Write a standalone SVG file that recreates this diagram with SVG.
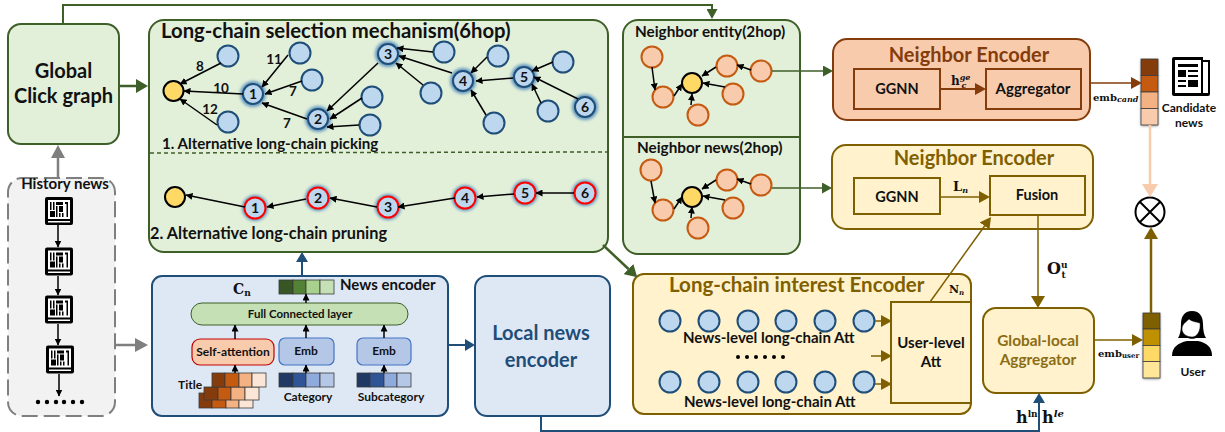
<svg xmlns="http://www.w3.org/2000/svg" width="1225" height="432" viewBox="0 0 1225 432">
<style>
text{font-family:"Lato","Liberation Sans",sans-serif;font-weight:700;fill:#111}
.m{text-anchor:middle}
.serif{font-family:"DejaVu Serif","Liberation Serif",serif;font-weight:700;fill:#111}
.n{fill:#bdd7ee;stroke:#1f4e79;stroke-width:2}
.o{fill:#f8cbad;stroke:#c55a11;stroke-width:2}
.r{fill:#bdd7ee;stroke:#f00;stroke-width:2}
.y{fill:#ffd966;stroke:#000;stroke-width:2}
.glow{fill:#2e75b6;opacity:.7;filter:url(#blur)}
.num{font-size:14px;text-anchor:middle}
.el{font-size:13.500px;text-anchor:middle}
.k{stroke:#000;stroke-width:1.5;fill:none;marker-end:url(#ak)}
.gbox{fill:#e2efd9;stroke:#3f5f29;stroke-width:2}
.cell{stroke:#3b3b3b;stroke-width:.8}
</style>
<defs>
<filter id="blur" x="-40%" y="-40%" width="180%" height="180%"><feGaussianBlur stdDeviation="1.6"/></filter>
<filter id="sh" x="-30%" y="-10%" width="160%" height="120%"><feDropShadow dx="0" dy="1" stdDeviation="1.5" flood-color="#000" flood-opacity=".45"/></filter>
<marker id="ak" markerUnits="userSpaceOnUse" markerWidth="7" markerHeight="7" viewBox="0 0 7 7" refX="6.5" refY="3.5" orient="auto"><path d="M0 0L7 3.5L0 7z" fill="#000"/></marker>
<marker id="gL" markerUnits="userSpaceOnUse" markerWidth="12" markerHeight="14" viewBox="0 0 12 14" refX="0" refY="7" orient="auto"><path d="M0 0L12 7L0 14z" fill="#3f5f29"/></marker>
<marker id="gS" markerUnits="userSpaceOnUse" markerWidth="10" markerHeight="11" viewBox="0 0 10 11" refX="0" refY="5.5" orient="auto"><path d="M0 0L10 5.5L0 11z" fill="#3f5f29"/></marker>
<marker id="gr" markerUnits="userSpaceOnUse" markerWidth="13" markerHeight="14" viewBox="0 0 13 14" refX="0" refY="7" orient="auto"><path d="M0 0L13 7L0 14z" fill="#7f7f7f"/></marker>
<marker id="bl" markerUnits="userSpaceOnUse" markerWidth="10" markerHeight="12" viewBox="0 0 10 12" refX="0" refY="6" orient="auto"><path d="M0 0L10 6L0 12z" fill="#1f4e79"/></marker>
<marker id="br" markerUnits="userSpaceOnUse" markerWidth="11" markerHeight="12" viewBox="0 0 11 12" refX="0" refY="6" orient="auto"><path d="M0 0L11 6L0 12z" fill="#843c0c"/></marker>
<marker id="go" markerUnits="userSpaceOnUse" markerWidth="11" markerHeight="12" viewBox="0 0 11 12" refX="0" refY="6" orient="auto"><path d="M0 0L11 6L0 12z" fill="#7f6000"/></marker>
<marker id="goL" markerUnits="userSpaceOnUse" markerWidth="12" markerHeight="14" viewBox="0 0 12 14" refX="0" refY="7" orient="auto"><path d="M0 0L12 7L0 14z" fill="#7f6000"/></marker>
<marker id="pe" markerUnits="userSpaceOnUse" markerWidth="13" markerHeight="16" viewBox="0 0 13 16" refX="0" refY="8" orient="auto"><path d="M0 0L13 8L0 16z" fill="#f8cbad"/></marker>
<symbol id="hist" viewBox="0 0 28 28">
<rect width="28" height="28" rx="2" fill="#000"/>
<rect x="3" y="3" width="22" height="19" fill="#fff"/>
<rect x="3" y="24" width="22" height="1.5" fill="#fff"/>
<path d="M5 5h1.500v8H5zM8 5h1.500v8H8zM5 14h5v6H5zM11 5h7v3h-7zM11 9h1.500v11H11zM14 9h4v6h-4zM14 16h1.500v4H14zM17 16h1.500v4H17zM20 5h3v15h-1.500V7H20z" fill="#000"/>
</symbol>
</defs>

<g id="global-click-graph"><rect class="gbox" x="8" y="24" width="111" height="120" rx="13"/>
<text class="m" x="63.500" y="78" font-size="20">Global</text><text class="m" x="63.500" y="103" font-size="20">Click graph</text></g>
<g id="history-news"><rect x="8" y="178" width="107" height="238" rx="14" fill="#f2f2f2" stroke="#7f7f7f" stroke-width="2" stroke-dasharray="16 6"/>
<text class="m" x="65" y="189" font-size="15">History news</text>
<use href="#hist" x="45" y="197" width="28" height="28"/><use href="#hist" x="45" y="247" width="28" height="29"/><use href="#hist" x="45" y="295" width="28" height="29"/><use href="#hist" x="46" y="345" width="28" height="29"/>
<g fill="#000"><circle cx="38" cy="402" r="2.200"/><circle cx="47" cy="402" r="2.200"/><circle cx="56" cy="402" r="2.200"/><circle cx="64" cy="402" r="2.200"/><circle cx="73" cy="402" r="2.200"/><circle cx="82" cy="402" r="2.200"/></g></g>
<g id="long-chain-selection"><rect class="gbox" x="149" y="20" width="459" height="232" rx="15"/>
<line x1="150" y1="153" x2="607" y2="152" stroke="#3f5f29" stroke-width="1.500" stroke-dasharray="4 3"/>
<text x="161" y="38" font-size="20.300">Long-chain selection mechanism(6hop)</text>
<text x="162" y="149" font-size="15.100">1. Alternative long-chain picking</text>
<text x="150" y="239" font-size="16.300">2. Alternative long-chain pruning</text></g>
<g id="neighbor-graphs"><rect class="gbox" x="623" y="20" width="177" height="234" rx="15"/>
<line x1="623" y1="137" x2="800" y2="137" stroke="#3f5f29" stroke-width="2"/>
<text x="635" y="37" font-size="15.300">Neighbor entity(2hop)</text><text x="637" y="153" font-size="15.300">Neighbor news(2hop)</text></g>

<g id="chain-picking-nodes">
<g id="p-root"><circle class="y" cx="173.500" cy="91" r="10"/></g>
<g id="p-a"><circle class="n" cx="228" cy="56" r="10.500"/></g><g id="p-b"><circle class="n" cx="300" cy="53" r="10.500"/></g><g id="p-c"><circle class="n" cx="312" cy="80" r="10.500"/></g><g id="p-d"><circle class="n" cx="228" cy="122" r="10.500"/></g>
<g id="p-e"><circle class="n" cx="444" cy="52" r="10.500"/></g><g id="p-f"><circle class="n" cx="498" cy="56" r="10.500"/></g><g id="p-g"><circle class="n" cx="563" cy="62" r="10.500"/></g><g id="p-h"><circle class="n" cx="431" cy="93" r="10.500"/></g>
<g id="p-i"><circle class="n" cx="372" cy="97" r="10.500"/></g><g id="p-j"><circle class="n" cx="370" cy="125" r="10.500"/></g><g id="p-k"><circle class="n" cx="494" cy="123" r="10.500"/></g><g id="p-l"><circle class="n" cx="548" cy="111" r="10.500"/></g>
<g id="p1"><circle class="glow" cx="253" cy="94" r="13"/><circle class="n" cx="253" cy="94" r="10"/><text class="num" x="253" y="99">1</text></g>
<g id="p2"><circle class="glow" cx="318" cy="119" r="13"/><circle class="n" cx="318" cy="119" r="10"/><text class="num" x="318" y="124">2</text></g>
<g id="p3"><circle class="glow" cx="388" cy="54" r="13"/><circle class="n" cx="388" cy="54" r="10"/><text class="num" x="388" y="59">3</text></g>
<g id="p4"><circle class="glow" cx="463" cy="81" r="13"/><circle class="n" cx="463" cy="81" r="10"/><text class="num" x="463" y="86">4</text></g>
<g id="p5"><circle class="glow" cx="524" cy="77" r="13"/><circle class="n" cx="524" cy="77" r="10"/><text class="num" x="524" y="82">5</text></g>
<g id="p6"><circle class="glow" cx="585" cy="107" r="13"/><circle class="n" cx="585" cy="107" r="10"/><text class="num" x="585" y="112">6</text></g>
<text class="el" x="200" y="71">8</text><text class="el" x="274" y="64">11</text><text class="el" x="221" y="93">10</text><text class="el" x="293" y="96">7</text><text class="el" x="287" y="128">7</text><text class="el" x="210" y="114">12</text>
</g>
<g id="chain-pruning-nodes">
<g id="q-root"><circle class="y" cx="175" cy="197" r="10"/></g>
<g id="q1"><circle class="glow" cx="255" cy="208" r="13"/><circle class="r" cx="255" cy="208" r="10.500"/><text class="num" x="255" y="213">1</text></g>
<g id="q2"><circle class="glow" cx="318" cy="198" r="13"/><circle class="r" cx="318" cy="198" r="10.500"/><text class="num" x="318" y="203">2</text></g>
<g id="q3"><circle class="glow" cx="388" cy="207" r="13"/><circle class="r" cx="388" cy="207" r="10.500"/><text class="num" x="388" y="212">3</text></g>
<g id="q4"><circle class="glow" cx="465" cy="198" r="13"/><circle class="r" cx="465" cy="198" r="10.500"/><text class="num" x="465" y="203">4</text></g>
<g id="q5"><circle class="glow" cx="525" cy="193" r="13"/><circle class="r" cx="525" cy="193" r="10.500"/><text class="num" x="525" y="198">5</text></g>
<g id="q6"><circle class="glow" cx="585" cy="193" r="13"/><circle class="r" cx="585" cy="193" r="10.500"/><text class="num" x="585" y="198">6</text></g>
</g>
<g id="neighbor-entity-nodes">
<circle class="o" cx="652" cy="57" r="10.500"/><circle class="o" cx="663" cy="97" r="10.500"/><circle class="y" cx="692" cy="83" r="10"/><circle class="o" cx="727" cy="66" r="10.500"/><circle class="o" cx="761" cy="71" r="10.500"/><circle class="o" cx="733" cy="94" r="10.500"/><circle class="o" cx="698" cy="115" r="10.500"/>
</g>
<g id="neighbor-news-nodes">
<circle class="o" cx="651" cy="170" r="10.500"/><circle class="o" cx="663" cy="210" r="10.500"/><circle class="y" cx="692" cy="197" r="10"/><circle class="o" cx="727" cy="180" r="10.500"/><circle class="o" cx="761" cy="185" r="10.500"/><circle class="o" cx="733" cy="208" r="10.500"/><circle class="o" cx="698" cy="228" r="10.500"/>
</g>

<g id="news-encoder"><rect x="152" y="276" width="296" height="140" rx="10" fill="#dee8f5" stroke="#1f4e79" stroke-width="2"/>
<text class="serif" x="233" y="294" font-size="14">C<tspan font-size="9" dy="2">n</tspan></text>
<g class="cell"><rect x="279" y="280" width="14" height="14" fill="#375623"/><rect x="293" y="280" width="13" height="14" fill="#548235"/><rect x="306" y="280" width="14" height="14" fill="#a9d18e"/><rect x="320" y="280" width="14" height="14" fill="#c5e0b4"/></g>
<text x="340" y="290" font-size="15">News encoder</text>
<g id="full-connected"><rect x="191" y="303" width="217" height="22" rx="11" fill="#c5e0b4" stroke="#3f5f29" stroke-width="1"/><text class="m" x="300" y="318" font-size="11.500">Full Connected layer</text></g>
<g id="self-attention"><rect x="192" y="339" width="82" height="26" rx="8" fill="#f8cbad" stroke="#c00000" stroke-width="1.200"/><text class="m" x="233" y="356" font-size="12">Self-attention</text></g>
<g id="emb-1"><rect x="279" y="338" width="55" height="27" rx="6" fill="#b4c7e7" stroke="#4472c4" stroke-width="1.200"/><text class="m" x="306" y="355" font-size="12">Emb</text></g>
<g id="emb-2"><rect x="357" y="338" width="54" height="27" rx="6" fill="#b4c7e7" stroke="#4472c4" stroke-width="1.200"/><text class="m" x="384" y="355" font-size="12">Emb</text></g>
<g class="cell"><rect x="199" y="393" width="13" height="15" fill="#843c0c"/><rect x="212" y="393" width="14" height="15" fill="#c55a11"/><rect x="226" y="393" width="13" height="15" fill="#f4b183"/><rect x="239" y="393" width="14" height="15" fill="#fbe5d6"/>
<rect x="204" y="387" width="14" height="13" fill="#843c0c"/><rect x="218" y="387" width="13" height="13" fill="#c55a11"/><rect x="231" y="387" width="14" height="13" fill="#f4b183"/><rect x="245" y="387" width="14" height="13" fill="#fbe5d6"/>
<rect x="212" y="373" width="13" height="14" fill="#843c0c"/><rect x="225" y="373" width="14" height="14" fill="#c55a11"/><rect x="239" y="373" width="13" height="14" fill="#f4b183"/><rect x="252" y="373" width="14" height="14" fill="#fbe5d6"/>
<rect x="279" y="373" width="14" height="14" fill="#1f3864"/><rect x="293" y="373" width="13" height="14" fill="#2f5597"/><rect x="306" y="373" width="14" height="14" fill="#8faadc"/><rect x="320" y="373" width="14" height="14" fill="#b4c7e7"/>
<rect x="357" y="373" width="13" height="14" fill="#1f3864"/><rect x="370" y="373" width="14" height="14" fill="#2f5597"/><rect x="384" y="373" width="13" height="14" fill="#8faadc"/><rect x="397" y="373" width="14" height="14" fill="#b4c7e7"/></g>
<text x="178" y="389" font-size="12">Title</text><text class="m" x="308" y="401" font-size="12">Category</text><text class="m" x="391" y="401" font-size="12">Subcategory</text></g>

<g id="local-news-encoder"><rect x="475" y="276" width="135" height="140" rx="12" fill="#dee8f5" stroke="#1f4e79" stroke-width="2"/>
<text class="m" x="541" y="340" font-size="20" style="fill:#1f4e79">Local news</text><text class="m" x="541" y="367" font-size="20" style="fill:#1f4e79">encoder</text></g>

<g id="neighbor-encoder-entity"><rect x="833" y="39" width="257" height="81" rx="14" fill="#f8cbad" stroke="#843c0c" stroke-width="2"/>
<text class="m" x="969" y="62" font-size="20" style="fill:#843c0c">Neighbor Encoder</text>
<g id="ggnn-1"><rect x="854" y="69" width="86" height="40" fill="#f8cbad" stroke="#843c0c" stroke-width="2"/><text class="m" x="897" y="94" font-size="14.500">GGNN</text></g>
<g id="aggregator"><rect x="986" y="69" width="95" height="40" fill="#f8cbad" stroke="#843c0c" stroke-width="2"/><text class="m" x="1033" y="94" font-size="15">Aggregator</text></g>
<text class="serif" x="951" y="85" font-size="12">h<tspan font-size="8" dy="-5" font-style="italic">ge</tspan><tspan font-size="8" dx="-9" dy="8" font-style="italic">c</tspan></text></g>
<g id="neighbor-encoder-news"><rect x="832" y="145" width="261" height="84" rx="14" fill="#fff2cc" stroke="#7f6000" stroke-width="2"/>
<text class="m" x="974" y="165" font-size="20" style="fill:#7f6000">Neighbor Encoder</text>
<g id="ggnn-2"><rect x="854" y="178" width="86" height="36" fill="#fff2cc" stroke="#7f6000" stroke-width="2"/><text class="m" x="897" y="202" font-size="14.500">GGNN</text></g>
<g id="fusion"><rect x="990" y="176" width="95" height="39" fill="#fff2cc" stroke="#7f6000" stroke-width="2"/><text class="m" x="1037" y="200" font-size="14.500">Fusion</text></g>
<text class="serif" x="953" y="191" font-size="13">L<tspan font-size="8" dy="2" font-style="italic">n</tspan></text></g>

<g id="long-chain-interest"><rect x="633" y="274" width="338" height="140" rx="11" fill="#fff2cc" stroke="#7f6000" stroke-width="2"/>
<text x="669" y="292" font-size="20.500" style="fill:#7f6000">Long-chain interest Encoder</text>
<text class="serif" x="949" y="293" font-size="11">N<tspan font-size="7" dy="2" font-style="italic">n</tspan></text>
<g><circle class="n" cx="670" cy="321" r="10.500"/><circle class="n" cx="709" cy="321" r="10.500"/><circle class="n" cx="748" cy="321" r="10.500"/><circle class="n" cx="786" cy="321" r="10.500"/><circle class="n" cx="825" cy="321" r="10.500"/><circle class="n" cx="864" cy="321" r="10.500"/>
<circle class="n" cx="670" cy="382" r="10.500"/><circle class="n" cx="709" cy="382" r="10.500"/><circle class="n" cx="748" cy="382" r="10.500"/><circle class="n" cx="786" cy="382" r="10.500"/><circle class="n" cx="825" cy="382" r="10.500"/><circle class="n" cx="864" cy="382" r="10.500"/></g>
<text x="683" y="343" font-size="15">News-level long-chain Att</text><text x="684" y="407" font-size="15">News-level long-chain Att</text>
<g fill="#000"><circle cx="738" cy="357" r="2"/><circle cx="747" cy="357" r="2"/><circle cx="756" cy="357" r="2"/><circle cx="765" cy="357" r="2"/><circle cx="774" cy="357" r="2"/><circle cx="783" cy="357" r="2"/></g>
<g id="user-level-att"><rect x="891" y="302" width="80" height="101" fill="#fff2cc" stroke="#7f6000" stroke-width="2"/><text class="m" x="931" y="348" font-size="15">User-level</text><text class="m" x="931" y="367" font-size="15">Att</text></g></g>

<g id="global-local-aggregator"><rect x="983" y="308" width="111" height="85" rx="13" fill="#fff2cc" stroke="#7f6000" stroke-width="2"/>
<text class="m" x="1038" y="346" font-size="15.400" style="fill:#8a6d14">Global-local</text><text class="m" x="1038" y="365" font-size="15.400" style="fill:#8a6d14">Aggregator</text></g>

<g id="candidate-vector"><rect x="1141" y="59" width="17" height="66" filter="url(#sh)" fill="#f8cbad"/>
<g class="cell"><rect x="1141" y="59" width="17" height="16.500" fill="#843c0c"/><rect x="1141" y="75.500" width="17" height="16.500" fill="#c55a11"/><rect x="1141" y="92" width="17" height="16.500" fill="#f4b183"/><rect x="1141" y="108.500" width="17" height="16.500" fill="#f8cbad"/></g></g>
<g id="candidate-news"><path d="M1172 59a2 2 0 0 1 2-2h29v3h7v34a2 2 0 0 1-2 2h-34a2 2 0 0 1-2-2z" fill="#000"/><rect x="1175" y="60" width="26" height="33" fill="#fff"/><rect x="1203" y="62" width="5" height="31" fill="#fff"/>
<path d="M1178 64h20v3h-20zM1178 70h8v7h-8zM1188 70h10v2h-10zM1188 75h10v2h-10zM1178 80h8v2h-8zM1188 80h10v7h-10zM1178 85h8v2h-8z" fill="#000"/>
<text class="m" x="1189" y="112" font-size="12">Candidate</text><text class="m" x="1189" y="127" font-size="12">news</text></g>
<text class="serif" x="1093" y="101" font-size="10">emb<tspan font-size="8" dy="1" font-style="italic">cand</tspan></text>
<g id="product"><circle cx="1150" cy="212" r="14.500" fill="#fff" stroke="#000" stroke-width="2"/><path d="M1140 202L1160 222M1160 202L1140 222" stroke="#000" stroke-width="2"/></g>
<g id="user-vector"><rect x="1143" y="313" width="17" height="65" filter="url(#sh)" fill="#ffe699"/>
<g class="cell"><rect x="1143" y="313" width="17" height="16" fill="#7f6000"/><rect x="1143" y="329" width="17" height="16.500" fill="#bf9000"/><rect x="1143" y="345.500" width="17" height="16" fill="#ffd966"/><rect x="1143" y="361.500" width="17" height="16.500" fill="#ffe699"/></g></g>
<g id="user"><path d="M1192 311c-8 0-11 6-11 13 0 6-1 11-3 14h10c1 1 7 1 8 0h10c-2-3-3-8-3-14 0-7-3-13-11-13z" fill="#000"/>
<path d="M1182 329c0-5 4-7 7-10 3 3 9 3 11 4 1 8-3 14-8 14s-10-3-10-8z" fill="#fff" stroke="#000" stroke-width=".5"/>
<path d="M1172 356c0-9 6-13 15-15h11c9 2 14 6 14 15z" fill="#000"/>
<text class="m" x="1193" y="376" font-size="12">User</text></g>
<text class="serif" x="1047" y="274" font-size="16">O<tspan font-size="9" dy="-6">u</tspan><tspan font-size="9" dx="-6" dy="10">t</tspan></text>
<text class="serif" x="1098" y="357" font-size="10">emb<tspan font-size="7" dy="1">user</tspan></text>
<text class="serif" x="1016" y="423" font-size="16">h<tspan font-size="9" dy="-6">ln</tspan></text>
<text class="serif" x="1042" y="423" font-size="16">h<tspan font-size="10" dy="-6" font-style="italic">le</tspan></text>

<g id="connectors">
<path d="M63 24V5H712V9" fill="none" stroke="#3f5f29" stroke-width="2" marker-end="url(#gS)"/>
<path d="M119 86H136" fill="none" stroke="#3f5f29" stroke-width="2.500" marker-end="url(#gL)"/>
<path d="M58 178V158" fill="none" stroke="#7f7f7f" stroke-width="2.500" marker-end="url(#gr)"/>
<path d="M115 345H135" fill="none" stroke="#7f7f7f" stroke-width="2.500" marker-end="url(#gr)"/>
<path class="k" d="M58 225V247"/><path class="k" d="M58 276V295"/><path class="k" d="M58 324V345"/><path class="k" d="M59 374V396"/>
<path d="M302 276V262" fill="none" stroke="#1f4e79" stroke-width="2" marker-end="url(#bl)"/>
<path d="M448 345H465" fill="none" stroke="#1f4e79" stroke-width="2" marker-end="url(#bl)"/>
<path d="M541 416V431H1039V403" fill="none" stroke="#1f4e79" stroke-width="2" marker-end="url(#bl)"/>
<path d="M603 245L628.500 269" fill="none" stroke="#3f5f29" stroke-width="2.500" marker-end="url(#gL)"/>
<path d="M772 71H823" fill="none" stroke="#3f5f29" stroke-width="1.500" marker-end="url(#gS)"/>
<path d="M772 188H822" fill="none" stroke="#3f5f29" stroke-width="1.500" marker-end="url(#gS)"/>
<path d="M940 89H975" fill="none" stroke="#843c0c" stroke-width="2" marker-end="url(#br)"/>
<path d="M1090 83H1131" fill="none" stroke="#843c0c" stroke-width="1.500" marker-end="url(#br)"/>
<path d="M940 197H979" fill="none" stroke="#7f6000" stroke-width="1.500" marker-end="url(#go)"/>
<path d="M930 302L984.600 226" fill="none" stroke="#7f6000" stroke-width="1.500" marker-end="url(#go)"/>
<path d="M1038 215V296" fill="none" stroke="#7f6000" stroke-width="1.500" marker-end="url(#goL)"/>
<path d="M1094 340H1132" fill="none" stroke="#7f6000" stroke-width="1.500" marker-end="url(#go)"/>
<path d="M1151 313V239" fill="none" stroke="#7f6000" stroke-width="2.500" marker-end="url(#goL)"/>
<path d="M1150 125V184" fill="none" stroke="#f8cbad" stroke-width="2.500" marker-end="url(#pe)"/>
<path d="M875 321H881" fill="none" stroke="#7f6000" stroke-width="1.500" marker-end="url(#go)"/>
<path d="M871 356H881" fill="none" stroke="#7f6000" stroke-width="1.500" marker-end="url(#go)"/>
<path d="M875 384H881" fill="none" stroke="#7f6000" stroke-width="1.500" marker-end="url(#go)"/>
<path class="k" d="M221 63L180 84"/><path class="k" d="M243 94L184 91"/><path class="k" d="M217 125L180 99"/>
<path class="k" d="M288 55L262 87"/><path class="k" d="M302 81L265 94"/><path class="k" d="M307 119L262 103"/>
<path class="k" d="M378 63L327 111"/><path class="k" d="M362 98L330 119"/><path class="k" d="M359 125L327 127"/>
<path class="k" d="M433 52L397 48"/><path class="k" d="M452 73L399 56"/><path class="k" d="M423 85L396 63"/>
<path class="k" d="M487 57L471 73"/><path class="k" d="M513 78L476 81"/><path class="k" d="M486 115L471 90"/>
<path class="k" d="M553 62L532 71"/><path class="k" d="M541 103L532 84"/><path class="k" d="M578 99L534 77"/>
<path class="k" d="M574 193H536"/><path class="k" d="M514 194L477 197"/><path class="k" d="M455 198L398 207"/><path class="k" d="M377 207L330 198"/><path class="k" d="M306 199L267 207"/><path class="k" d="M245 207L186 195"/>
<path class="k" d="M652 67L655 90"/><path class="k" d="M674 96L682 84"/><path class="k" d="M716 67L702 76"/><path class="k" d="M751 70L737 65"/><path class="k" d="M725 87L703 83"/><path class="k" d="M691 105L692 94"/>
<path class="k" d="M651 181L655 203"/><path class="k" d="M674 209L682 197"/><path class="k" d="M716 180L702 189"/><path class="k" d="M751 184L737 179"/><path class="k" d="M725 200L703 196"/><path class="k" d="M691 218L692 207"/>
<path class="k" d="M235 339V325"/><path class="k" d="M306 338V325"/><path class="k" d="M384 338V325"/><path class="k" d="M306 303V294"/><path class="k" d="M235 373V365"/><path class="k" d="M306 373V365"/><path class="k" d="M384 373V365"/>
</g>
</svg>
